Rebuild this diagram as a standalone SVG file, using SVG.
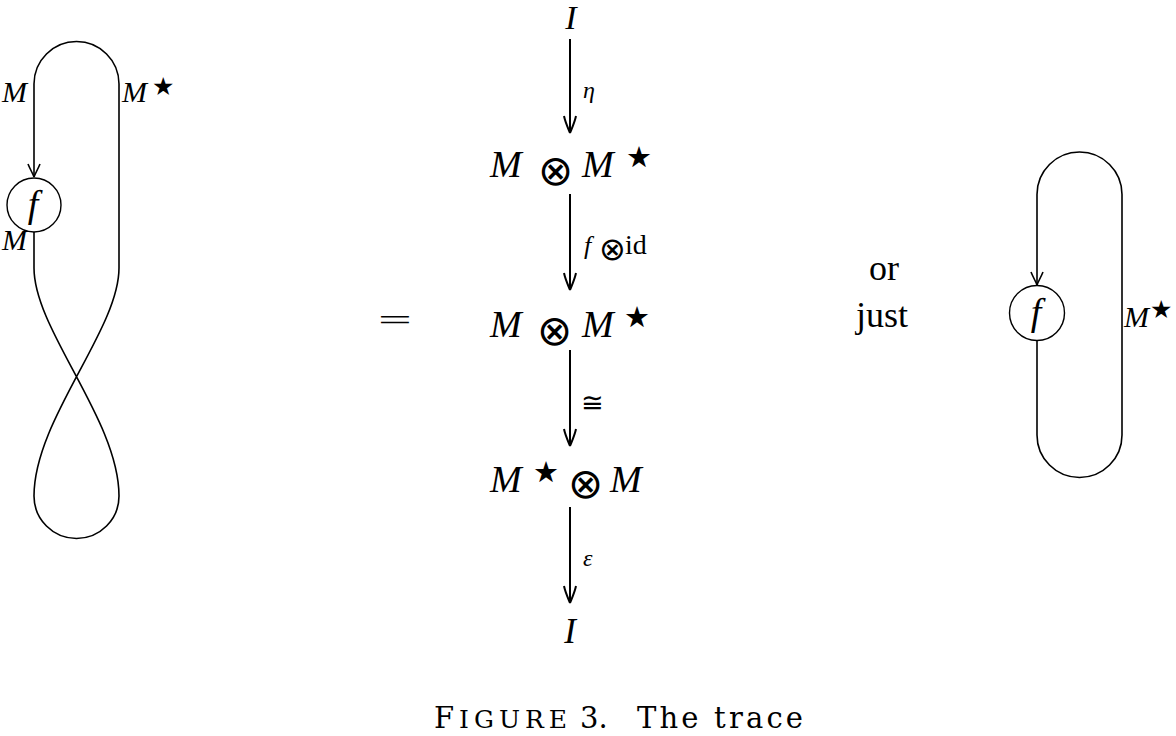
<svg xmlns="http://www.w3.org/2000/svg" width="1176" height="736" viewBox="0 0 1176 736">
<defs>
<style>
.w{fill:none;stroke:#000;stroke-width:1.6}
.a{fill:none;stroke:#000;stroke-width:2}
.n{fill:#fff;stroke:#000;stroke-width:1.4}
.t{font-family:"Liberation Serif","DejaVu Serif",serif;fill:#000}
.c{font-family:"DejaVu Serif","Liberation Serif",serif;fill:#000}
.i{font-style:italic}
.s{font-family:"DejaVu Sans",sans-serif;font-style:normal}
.o{font-family:"DejaVu Sans",sans-serif;font-style:normal}
.big{font-size:38px}
.lab{font-size:24px}
.sm{font-size:30px}
.ot{font-size:42px}
.st{font-size:29px}
</style>
<marker id="hs" markerUnits="userSpaceOnUse" orient="auto" refX="0" refY="0" markerWidth="20" markerHeight="20" overflow="visible">
<path d="M-13,-6 C-8,-4 -3,-1 0,0 M-13,6 C-8,4 -3,1 0,0" fill="none" stroke="#000" stroke-width="1.6"/>
</marker>
<marker id="hb" markerUnits="userSpaceOnUse" orient="auto" refX="0" refY="0" markerWidth="24" markerHeight="24" overflow="visible">
<path d="M-17,-6 C-10,-4.5 -4,-1.5 0,0 M-17,6 C-10,4.5 -4,1.5 0,0" fill="none" stroke="#000" stroke-width="2"/>
</marker>
</defs>
<rect width="1176" height="736" fill="#fff"/>

<g id="connectors">
<path class="w" d="M34,232 L34,268 C34,330 119,420 119,496 A42.5,42.5 0 0 1 34,496 C34,420 119,330 119,268 L119,84 A42.5,42.5 0 0 0 34,84 L34,177" marker-end="url(#hs)"/>
<path class="w" d="M1037,341 L1037,435 A42.5,42.5 0 0 0 1122,435 L1122,194.5 A42.5,42.5 0 0 0 1037,194.5 L1037,285" marker-end="url(#hs)"/>
<line class="a" x1="570" y1="39" x2="570" y2="133" marker-end="url(#hb)"/>
<line class="a" x1="570" y1="194" x2="570" y2="290" marker-end="url(#hb)"/>
<line class="a" x1="570" y1="350" x2="570" y2="446" marker-end="url(#hb)"/>
<line class="a" x1="570" y1="507" x2="570" y2="603" marker-end="url(#hb)"/>
<text class="t i lab" x="583" y="98">η</text>
<text class="t lab" y="254"><tspan class="i" font-size="26" x="584">f</tspan><tspan class="o" font-size="32" x="599" y="260">⊗</tspan><tspan font-size="28" x="625" y="254">id</tspan></text>
<text class="t s" font-size="27" x="581" y="412">≅</text>
<text class="t i lab" x="583" y="566">ε</text>
</g>

<g id="left-diagram">
<circle class="n" cx="34" cy="205" r="27"/>
<text class="t i" font-size="38" x="33" y="217" text-anchor="middle">f</text>
<text class="t i sm" x="2" y="102">M</text>
<text class="t i sm" x="122" y="102">M</text>
<text class="t s" font-size="25" x="152" y="95">★</text>
<text class="t i sm" x="2" y="250">M</text>
</g>

<g id="node-I-top"><text class="t i" font-size="34" x="571" y="29" text-anchor="middle">I</text></g>
<g id="node-MMstar-1"><text class="t i big" y="177"><tspan x="490">M</tspan><tspan class="o ot" x="538" y="185">⊗</tspan><tspan x="582" y="177">M</tspan><tspan class="s st" x="626" y="167">★</tspan></text></g>
<g id="node-MMstar-2"><text class="t i big" y="337"><tspan x="490">M</tspan><tspan class="o ot" x="537" y="345">⊗</tspan><tspan x="582" y="337">M</tspan><tspan class="s st" x="624" y="327">★</tspan></text></g>
<g id="node-MstarM"><text class="t i big" y="492"><tspan x="490">M</tspan><tspan class="s st" x="533" y="482">★</tspan><tspan class="o ot" x="568" y="498">⊗</tspan><tspan x="610" y="492">M</tspan></text></g>
<g id="node-I-bottom"><text class="t i" font-size="35" x="570" y="643" text-anchor="middle">I</text></g>

<g id="equals"><text class="t" font-size="30" text-anchor="middle" transform="translate(395,330) scale(2,1)">=</text></g>
<g id="or-just"><text class="t" font-size="36" text-anchor="middle"><tspan x="884" y="280">or</tspan><tspan x="882" y="327">just</tspan></text></g>

<g id="right-diagram">
<circle class="n" cx="1037" cy="313" r="27.5"/>
<text class="t i" font-size="38" x="1036" y="325" text-anchor="middle">f</text>
<text class="t i sm" x="1124" y="327">M</text>
<text class="t s" font-size="25" x="1150" y="318">★</text>
</g>

<g id="caption">
<text class="c" font-size="29" x="434" y="728" textLength="133" lengthAdjust="spacing">F<tspan font-size="25">IGURE</tspan></text>
<text class="c" font-size="29" x="580" y="728">3.</text>
<text class="c" font-size="29" x="637" y="728" textLength="166" lengthAdjust="spacing">The trace</text>
</g>
</svg>
